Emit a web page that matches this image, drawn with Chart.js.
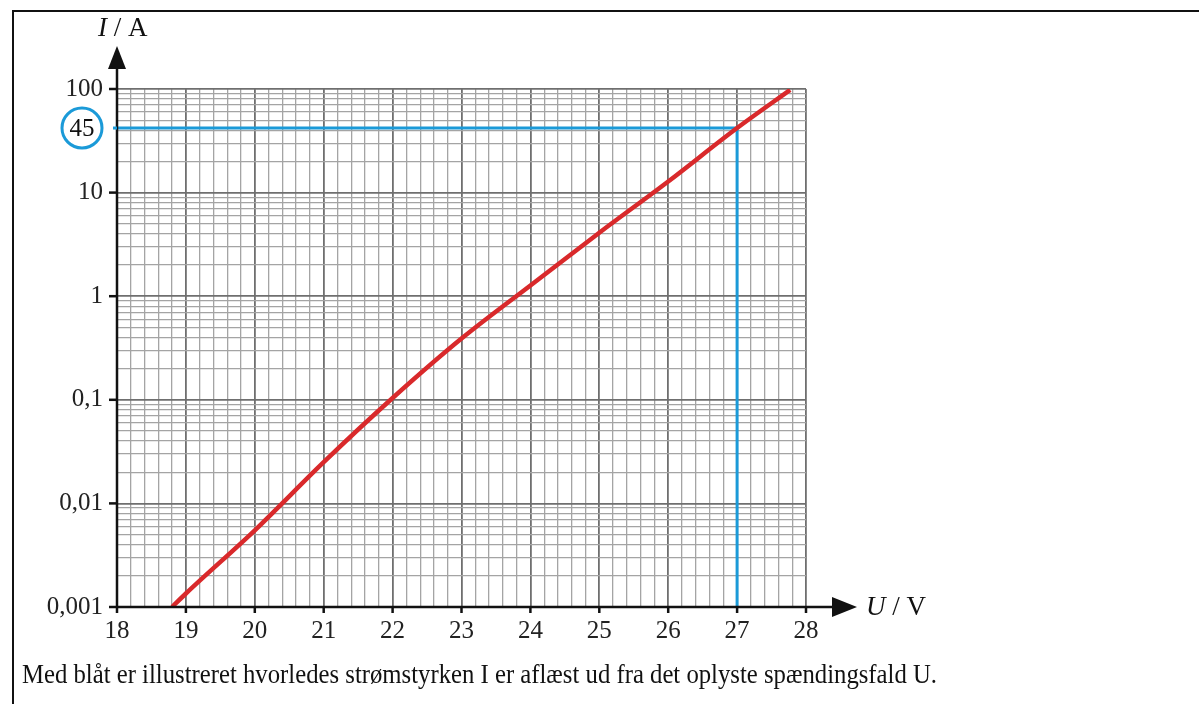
<!DOCTYPE html>
<html><head><meta charset="utf-8">
<script src="https://cdn.jsdelivr.net/npm/chart.js@4"></script>
<style>
html,body{margin:0;padding:0;background:#fff;width:1199px;height:704px;overflow:hidden}
#wrap{position:relative;width:1199px;height:704px}
canvas{position:absolute;left:0;top:0}
.frameTop{position:absolute;left:12px;top:10px;width:1187px;height:2px;background:#111}
.frameLeft{position:absolute;left:12px;top:10px;width:2px;height:694px;background:#111}
#caption{position:absolute;left:22px;top:658px;font-family:'Liberation Serif',serif;font-size:28px;line-height:32px;white-space:nowrap;transform-origin:0 0;color:#111}
</style></head>
<body><div id="wrap"><canvas id="c" width="1199" height="704"></canvas>
<div class="frameTop"></div><div class="frameLeft"></div>
<div id="caption">Med blåt er illustreret hvorledes strømstyrken I er aflæst ud fra det oplyste spændingsfald U.</div>
</div>
<script>
// ---- data ----
const voltage = [18.8, 19, 20, 21, 22, 23, 24, 25, 26, 27, 27.77];
const current = [0.001, 0.00135, 0.0055, 0.025, 0.104, 0.39, 1.27, 4.1, 12.8, 42, 98];
const readU = [18, 27, 27];
const readI = [42, 42, 0.001];
const xTickValues = [18, 19, 20, 21, 22, 23, 24, 25, 26, 27, 28];
const xTickLabels = ['18', '19', '20', '21', '22', '23', '24', '25', '26', '27', '28'];
const yTickValues = [0.001, 0.01, 0.1, 1, 10, 100];
const yTickLabels = ['0,001', '0,01', '0,1', '1', '10', '100'];
const markedValue = 42;
const markedLabel = '45';
const xTitle = ['U', ' / V'];
const yTitle = ['I', ' / A'];

// grid positions: 0.2 V steps, 1..9 per decade
const xGrid = [];
for (let i = 0; i <= 50; i++) xGrid.push(Math.round((18 + i * 0.2) * 10) / 10);
const yGrid = [];
for (let d = -3; d <= 1; d++) for (let m = 1; m <= 9; m++) yGrid.push(+(m * Math.pow(10, d)).toPrecision(3));
yGrid.push(100);

const isInt = v => Math.abs(v - Math.round(v)) < 1e-6;
const isDecade = v => { const l = Math.log10(v); return Math.abs(l - Math.round(l)) < 1e-6; };
const MAJOR = '#6f6f6f', MINOR = '#a4a4a4';
const SERIF = "'Liberation Serif', serif";

const axesPlugin = {
  id: 'axes',
  afterDraw(chart) {
    const ctx = chart.ctx, xs = chart.scales.x, ys = chart.scales.y;
    const L = xs.left, B = ys.bottom;
    ctx.save();
    ctx.strokeStyle = '#111'; ctx.fillStyle = '#111';
    // y axis + arrow
    ctx.lineWidth = 2.5;
    ctx.beginPath(); ctx.moveTo(L, B + 1); ctx.lineTo(L, 62); ctx.stroke();
    ctx.beginPath(); ctx.moveTo(L, 46); ctx.lineTo(L - 9, 69); ctx.lineTo(L + 9, 69); ctx.closePath(); ctx.fill();
    // x axis + arrow
    ctx.beginPath(); ctx.moveTo(L - 1, B); ctx.lineTo(840, B); ctx.stroke();
    ctx.beginPath(); ctx.moveTo(857, B); ctx.lineTo(832, B - 10); ctx.lineTo(832, B + 10); ctx.closePath(); ctx.fill();
    // tick marks
    ctx.lineWidth = 2.5;
    yTickValues.forEach(v => { const y = ys.getPixelForValue(v); ctx.beginPath(); ctx.moveTo(L - 8, y); ctx.lineTo(L, y); ctx.stroke(); });
    xTickValues.forEach(v => { const x = xs.getPixelForValue(v); ctx.beginPath(); ctx.moveTo(x, B); ctx.lineTo(x, B + 6); ctx.stroke(); });
    // marked value with circle
    const my = ys.getPixelForValue(markedValue);
    ctx.strokeStyle = '#1b9ad8'; ctx.lineWidth = 3;
    ctx.beginPath(); ctx.moveTo(L - 4, my); ctx.lineTo(L, my); ctx.stroke();
    ctx.beginPath(); ctx.arc(L - 35, my, 20, 0, Math.PI * 2); ctx.stroke();
    ctx.fillStyle = '#111'; ctx.font = '25px ' + SERIF; ctx.textAlign = 'center'; ctx.textBaseline = 'middle';
    ctx.fillText(markedLabel, L - 35, my + 1);
    // axis titles
    ctx.textAlign = 'left';
    ctx.font = 'italic 27px ' + SERIF;
    let w = ctx.measureText(yTitle[0]).width;
    ctx.fillText(yTitle[0], 98, 29);
    ctx.font = '27px ' + SERIF;
    ctx.fillText(yTitle[1], 98 + w, 29);
    ctx.font = 'italic 27px ' + SERIF;
    w = ctx.measureText(xTitle[0]).width;
    ctx.fillText(xTitle[0], 866, B + 1);
    ctx.font = '27px ' + SERIF;
    ctx.fillText(xTitle[1], 866 + w, B + 1);
    ctx.restore();
  }
};

new Chart(document.getElementById('c'), {
  type: 'scatter',
  data: {
    datasets: [
      { data: voltage.map((u, i) => ({ x: u, y: current[i] })), showLine: true, borderColor: '#d9292b', borderWidth: 4.5, pointRadius: 0, cubicInterpolationMode: 'monotone', borderCapStyle: 'butt' },
      { data: readU.map((u, i) => ({ x: u, y: readI[i] })), showLine: true, borderColor: '#1b9ad8', borderWidth: 3, pointRadius: 0, tension: 0 }
    ]
  },
  options: {
    responsive: false, animation: false, devicePixelRatio: 1,
    layout: { padding: { left: 0, top: 89, right: 393, bottom: 0 } },
    plugins: { legend: { display: false }, tooltip: { enabled: false } },
    scales: {
      x: {
        type: 'linear', min: 18, max: 28,
        afterBuildTicks: s => { s.ticks = xGrid.map(v => ({ value: v })); },
        afterFit: s => { s.height = 97; },
        border: { display: false },
        grid: { drawTicks: false, color: c => isInt(c.tick.value) ? MAJOR : MINOR, lineWidth: c => isInt(c.tick.value) ? 1.8 : 1.3 },
        ticks: {
          autoSkip: false, maxRotation: 0, padding: 9, color: '#222', font: { family: SERIF, size: 25 },
          callback: v => { if (!isInt(v)) return ''; const i = xTickValues.indexOf(Math.round(v)); return i >= 0 ? xTickLabels[i] : ''; }
        }
      },
      y: {
        type: 'logarithmic', min: 0.001, max: 100,
        afterBuildTicks: s => { s.ticks = yGrid.map(v => ({ value: v })); },
        afterFit: s => { s.width = 117; },
        border: { display: false },
        grid: { drawTicks: false, color: c => isDecade(c.tick.value) ? MAJOR : MINOR, lineWidth: c => isDecade(c.tick.value) ? 1.8 : 1.3 },
        ticks: {
          autoSkip: false, padding: 14, color: '#222', font: { family: SERIF, size: 25 },
          callback: v => { const i = yTickValues.findIndex(t => Math.abs(t - v) / t < 1e-6); return i >= 0 ? yTickLabels[i] : ''; }
        }
      }
    }
  },
  plugins: [axesPlugin]
});

// condense caption to the reference width
const cap = document.getElementById('caption');
const cw = cap.getBoundingClientRect().width;
cap.style.transform = 'scaleX(' + (915 / cw) + ')';
</script>
</body></html>
